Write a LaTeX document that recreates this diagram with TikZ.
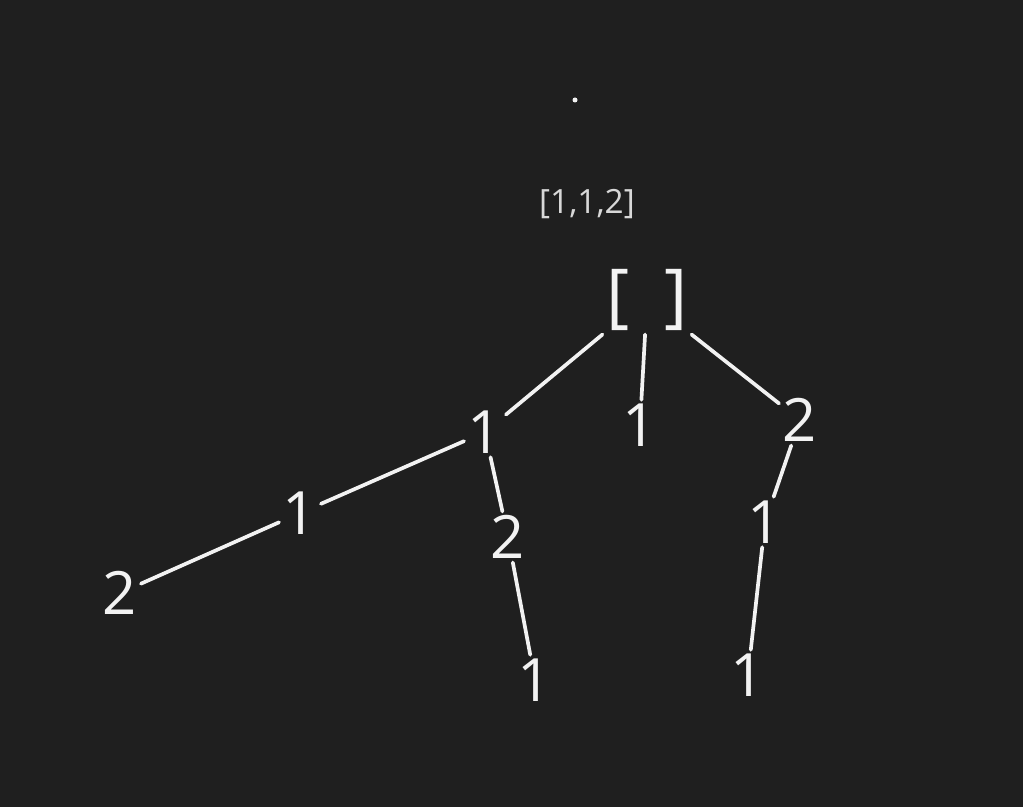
\documentclass[tikz,border=0pt]{standalone}
\usepackage{fontspec}
\setmainfont{Open Sans}
\definecolor{board}{HTML}{1F1F1F}
\definecolor{chalk}{HTML}{F2F2F2}
\definecolor{caption}{HTML}{D8D8D8}
\tikzset{
	digit/.style={text=chalk, inner sep=2pt, font=\fontsize{34}{34}\selectfont},
	stroke/.style={draw=chalk, line width=2.1pt, line cap=round}
}
\begin{document}
\begin{tikzpicture}
			%%%%% START %%%%%
			
			\fill[board] (0, 0) rectangle (20.46, 16.14);
			\useasboundingbox (0, 0) rectangle (20.46, 16.14);
			
			\fill[chalk] (11.5, 14.14) circle (0.05);
			\node[text=caption, font=\fontsize{19}{19}\selectfont] (list) at (11.74, 12.06) {[1,1,2]};
			
			\node[digit, font=\fontsize{40}{40}\selectfont] (root) at (12.94, 10.14) {[\,\,\,]};
			
			\node[digit] (a) at (9.7, 7.5) {1};
			\node[digit] (b) at (12.8, 7.64) {1};
			\node[digit] (c) at (16.0, 7.74) {2};
			
			\node[digit] (aa) at (6.0, 5.88) {1};
			\node[digit] (aaa) at (2.4, 4.28) {2};
			\node[digit] (ab) at (10.16, 5.4) {2};
			\node[digit] (aba) at (10.7, 2.54) {1};
			
			\node[digit] (ca) at (15.3, 5.7) {1};
			\node[digit] (caa) at (14.96, 2.64) {1};
			
			\draw[stroke] (root.south west) -- (a);
			\draw[stroke] (root) -- (b);
			\draw[stroke] (root.south east) -- (c);
			\draw[stroke] (a) -- (aa);
			\draw[stroke] (aa) -- (aaa);
			\draw[stroke] (a) -- (ab);
			\draw[stroke] (ab) -- (aba);
			\draw[stroke] (c) -- (ca);
			\draw[stroke] (ca) -- (caa);
			
			%%%%% END %%%%%
		\end{tikzpicture}
\end{document}
